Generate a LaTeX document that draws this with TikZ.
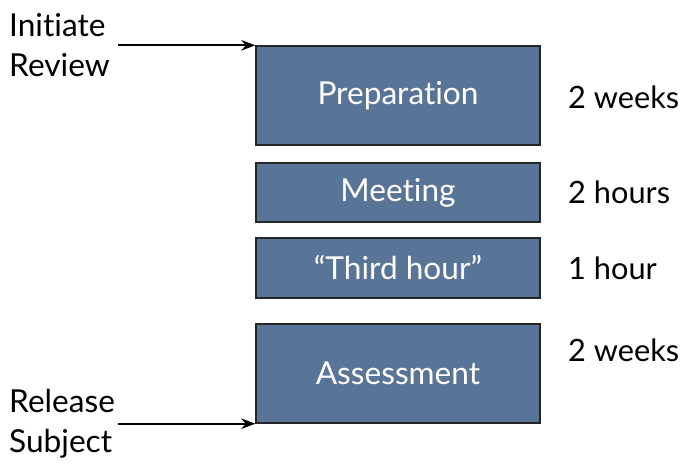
\documentclass[tikz,border=0pt]{standalone}
\usepackage{fontspec}
\setmainfont[Ligatures=NoCommon]{Lato}
\usetikzlibrary{positioning}
\usetikzlibrary{arrows.meta}

\definecolor{slate}{HTML}{587496}

\begin{document}
\begin{tikzpicture}[
    x=0.02cm, y=-0.02cm,
    stage/.style={draw=black!85, line width=0.8pt, fill=slate, text=white, minimum width=5.68cm, font=\fontsize{18}{21}\selectfont},
    span/.style={anchor=west, font=\fontsize{17.5}{21}\selectfont},
    event/.style={anchor=west, align=left, font=\fontsize{18}{23}\selectfont},
    flow/.style={-{Stealth[length=8pt,width=6pt]}, line width=1.1pt}
    ]
\useasboundingbox (0,0) rectangle (685,464);
% the four stages of a review
\node[stage, minimum height=1.98cm] at (398, 95.5) (prep) {Preparation};
\node[stage, minimum height=1.18cm] at (398, 192.5) (meet) {Meeting};
\node[stage, minimum height=1.20cm] at (398, 268) (third) {``Third hour''};
\node[stage, minimum height=1.98cm] at (398, 373.5) (assess) {Assessment};
% durations
\node[span] at (562, 97) (tprep) {2 weeks};
\node[span] at (562, 192.5) (tmeet) {2 hours};
\node[span] at (562, 268) (tthird) {1 hour};
\node[span] at (562, 350) (tassess) {2 weeks};
% start and end of the review
\node[event] at (3, 45) (start) {Initiate\\Review};
\node[event] at (3, 424) (finish) {Release\\Subject};
\coordinate (in) at (118, 0 |- prep.north west);
\coordinate (out) at (118, 0 |- assess.south west);
\draw[flow] (in) -- (prep.north west);
\draw[flow] (out) -- (assess.south west);
\end{tikzpicture}
\end{document}
